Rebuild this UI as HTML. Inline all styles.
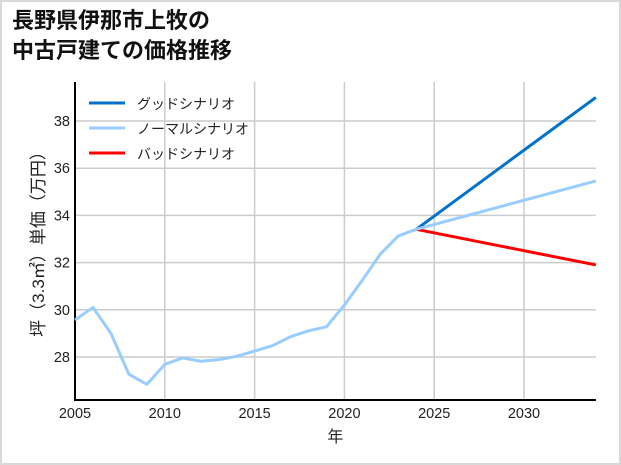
<!DOCTYPE html>
<html><head><meta charset="utf-8"><style>
html,body{margin:0;padding:0;background:#fff}
#wrap{position:relative;width:617px;height:461px;border:2px solid #d9d9d9;background:#fff;overflow:hidden}
svg text{font-family:"Liberation Sans","Noto Sans CJK JP",sans-serif}
</style></head><body>
<div id="wrap">
<svg id="chart" width="617" height="461">
<text x="10" y="26" font-size="22" font-weight="bold" fill="#111">長野県伊那市上牧の</text>
<text x="10" y="56" font-size="22" font-weight="bold" fill="#111">中古戸建ての価格推移</text>
</svg>
</div>
<script>
const years=[2005,2006,2007,2008,2009,2010,2011,2012,2013,2014,2015,2016,2017,2018,2019,2020,2021,2022,2023,2024];
const historyValues=[29.57,30.1,29.0,27.27,26.84,27.69,27.96,27.82,27.89,28.03,28.25,28.48,28.86,29.11,29.28,30.2,31.26,32.36,33.13,33.41];
const scenarioYears=[2024,2034];
const goodValues=[33.41,39.0];
const normalValues=[33.41,35.46];
const badValues=[33.41,31.9];
const xTicks=[2005,2010,2015,2020,2025,2030];
const yTicks=[28,30,32,34,36,38];
const NS='http://www.w3.org/2000/svg';
const svg=document.getElementById('chart');
const ox=-2,oy=-2;
const X=v=>75+ox+(v-2005)*(449/25);
const Y=v=>357+oy-(v-28)*23.6;
const plotLeft=X(2005),plotRight=X(2034),plotTop=82+oy,plotBottom=400+oy;
function el(t,a){const e=document.createElementNS(NS,t);for(const k in a)e.setAttribute(k,a[k]);svg.appendChild(e);return e;}
xTicks.forEach(t=>{
 const g=el('line',{x1:X(t),x2:X(t),y1:plotTop,y2:plotBottom,stroke:'#cccccc','stroke-width':1.5});
 
 
 const l=el('text',{x:X(t),y:plotBottom+18,'font-size':14.5,'text-anchor':'middle',fill:'#222'});
 l.textContent=t;
 
 
});
yTicks.forEach(t=>{
 const g=el('line',{x1:plotLeft,x2:plotRight,y1:Y(t),y2:Y(t),stroke:'#cccccc','stroke-width':1.5});
 
 
 const l=el('text',{x:plotLeft-5,y:Y(t)+5,'font-size':14.5,'text-anchor':'end',fill:'#222'});
 l.textContent=t;
 
 
});
const ya=el('line',{x1:plotLeft,x2:plotLeft,y1:plotTop,y2:plotBottom+1,stroke:'#000','stroke-width':2});


const xa=el('line',{x1:plotLeft-1,x2:plotRight,y1:plotBottom,y2:plotBottom,stroke:'#000','stroke-width':2});


function line(xs,ys,color,name){
 const p=el('polyline',{points:xs.map((x,i)=>X(x)+','+Y(ys[i])).join(' '),fill:'none',stroke:color,'stroke-width':3,'stroke-linejoin':'round'});
 
 
}
line(scenarioYears,goodValues,'#0072cc','good-scenario-line');
line(scenarioYears,badValues,'#ff0000','bad-scenario-line');
line(scenarioYears,normalValues,'#99ccff','normal-scenario-line');
line(years,historyValues,'#99ccff','history-line');
const leg=[['グッドシナリオ','#0072cc'],['ノーマルシナリオ','#99ccff'],['バッドシナリオ','#ff0000']];
leg.forEach((d,i)=>{
 const y=103+oy+i*25;
 const s=el('line',{x1:89+ox,x2:125+ox,y1:y,y2:y,stroke:d[1],'stroke-width':3});
 
 
 const t=el('text',{x:137+ox,y:y+6,'font-size':14,fill:'#222'});
 t.textContent=d[0];
 
 
});
const xt=el('text',{x:(plotLeft+plotRight)/2,y:442+oy,'font-size':16,'text-anchor':'middle',fill:'#222'});
xt.textContent='年';


const yt=el('text',{x:0,y:0,'font-size':17,'text-anchor':'middle',fill:'#222',transform:'translate('+(44+ox)+','+(240+oy)+') rotate(-90)'});
yt.textContent='坪（3.3㎡）単価（万円）';


</script>
</body></html>
